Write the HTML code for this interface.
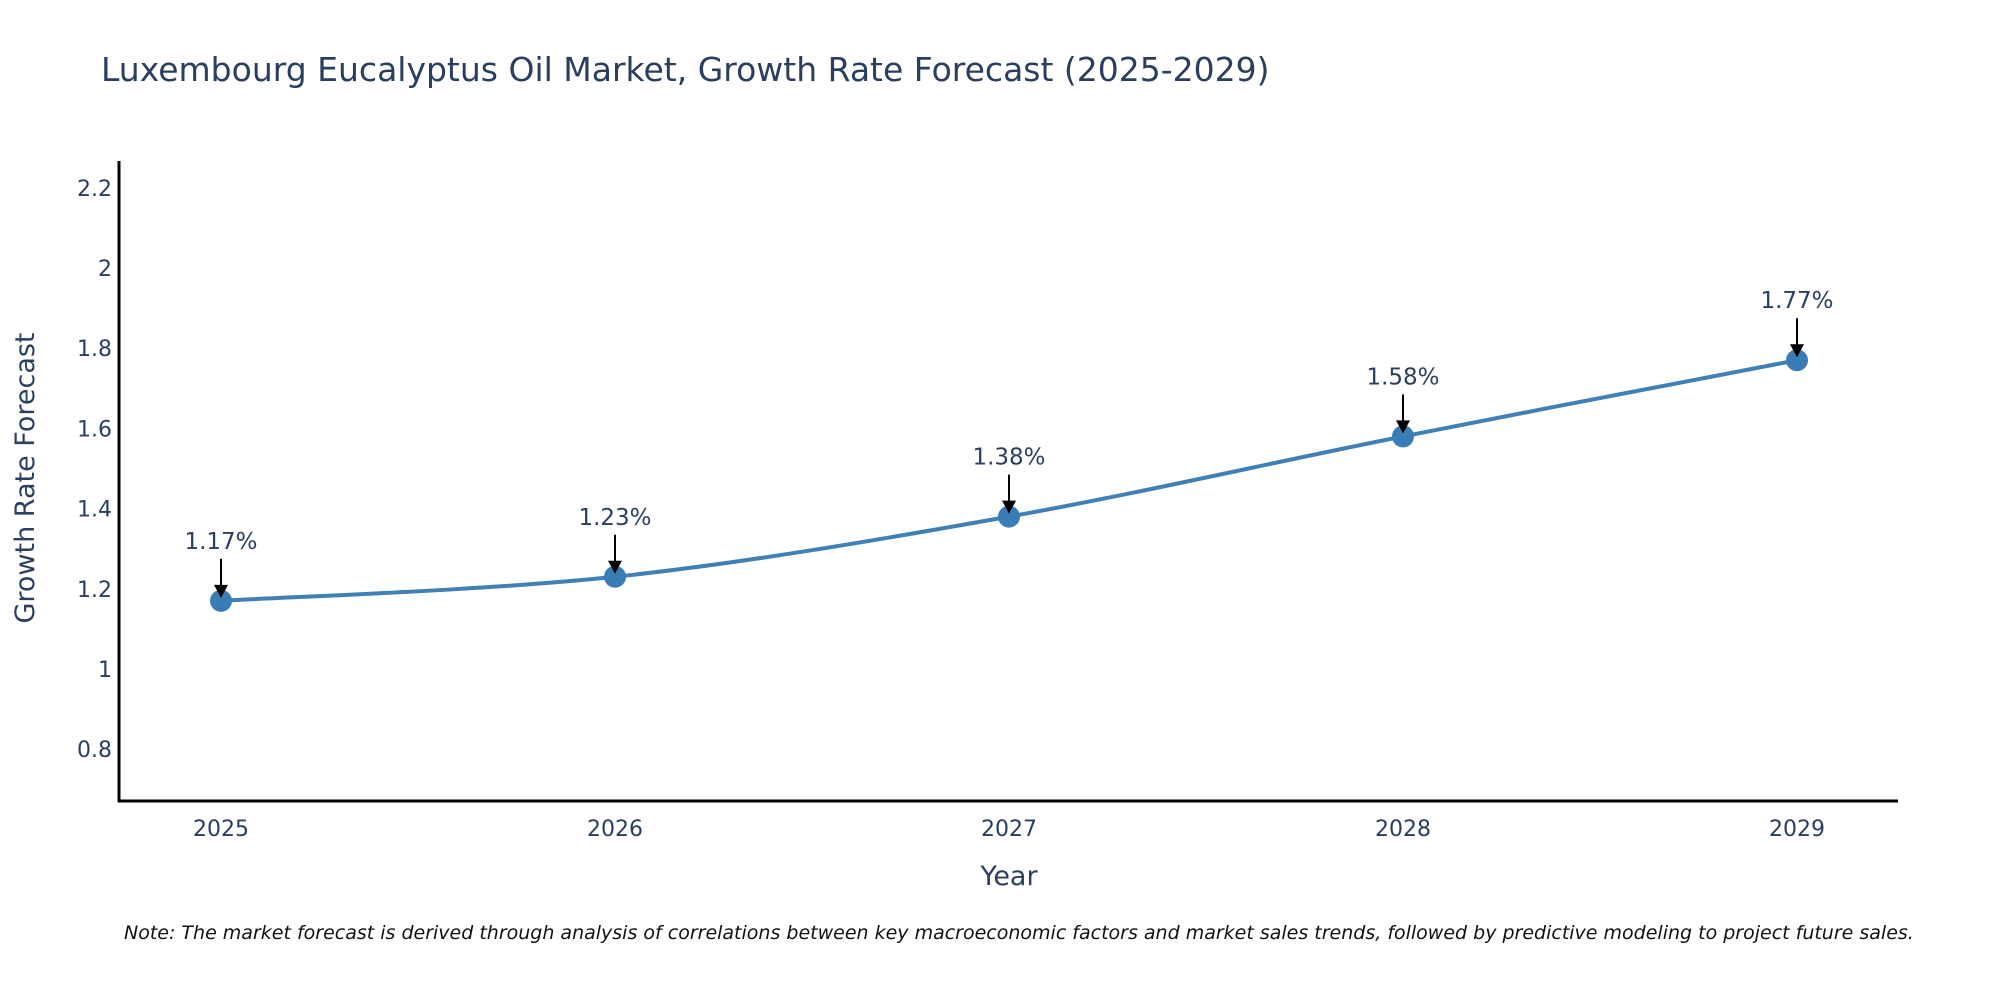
<!DOCTYPE html>
<html><head><meta charset="utf-8"><style>
body{margin:0;background:#fff;}
svg{display:block;font-family:"DejaVu Sans","Liberation Sans",sans-serif;}
</style></head><body>
<svg id="chart" width="2000" height="1000">
<text x="101" y="81" font-size="33" fill="#2a3f5f">Luxembourg Eucalyptus Oil Market, Growth Rate Forecast (2025-2029)</text>
<g id="yticks"></g>
<g id="xticks"></g>
<line x1="119" y1="161" x2="119" y2="802" stroke="#000" stroke-width="3"/>
<line x1="118" y1="801" x2="1898" y2="801" stroke="#000" stroke-width="3"/>
<path id="line" fill="none" stroke="#4080b4" stroke-width="4"/>
<g id="marks"></g>
<text transform="translate(34,478) rotate(-90)" text-anchor="middle" font-size="27" fill="#2a3f5f">Growth Rate Forecast</text>
<text x="1009" y="885" text-anchor="middle" font-size="27" fill="#2a3f5f">Year</text>
<text x="124" y="939" font-size="19" font-style="italic" fill="#111">Note: The market forecast is derived through analysis of correlations between key macroeconomic factors and market sales trends, followed by predictive modeling to project future sales.</text>
</svg>
<script>
const years=[2025,2026,2027,2028,2029];
const values=[1.17,1.23,1.38,1.58,1.77];
const labels=["1.17%","1.23%","1.38%","1.58%","1.77%"];
const yTicks=[0.8,1,1.2,1.4,1.6,1.8,2,2.2];
const NS="http://www.w3.org/2000/svg";
const xs=y=>221+(y-2025)*394;
const ys=v=>669-(v-1)*401;
function mk(t,a,p){const e=document.createElementNS(NS,t);for(const k in a)e.setAttribute(k,a[k]);p.appendChild(e);return e;}
const yt=document.getElementById('yticks');
yTicks.forEach(v=>{const t=mk('text',{x:112,y:ys(v)+8,'text-anchor':'end','font-size':22,fill:'#2a3f5f'},yt);


t.textContent=String(v);});
const xt=document.getElementById('xticks');
years.forEach(y=>{const t=mk('text',{x:xs(y),y:836,'text-anchor':'middle','font-size':22,fill:'#2a3f5f'},xt);


t.textContent=String(y);});
const pts=years.map((y,i)=>[xs(y),ys(values[i])]);
let d='M'+pts[0][0]+','+pts[0][1];
for(let i=0;i<pts.length-1;i++){const p0=pts[Math.max(0,i-1)],p1=pts[i],p2=pts[i+1],p3=pts[Math.min(pts.length-1,i+2)];const k=6;
d+=` C${p1[0]+(p2[0]-p0[0])/k},${p1[1]+(p2[1]-p0[1])/k} ${p2[0]-(p3[0]-p1[0])/k},${p2[1]-(p3[1]-p1[1])/k} ${p2[0]},${p2[1]}`;}
document.getElementById('line').setAttribute('d',d);
const mg=document.getElementById('marks');
pts.forEach((p,i)=>{
const c=mk('circle',{cx:p[0],cy:p[1],r:11,fill:'#3a7db6'},mg);


const l=mk('line',{x1:p[0],y1:p[1]-42,x2:p[0],y2:p[1]-14,stroke:'#000','stroke-width':2},mg);


const h=mk('polygon',{points:`${p[0]-7},${p[1]-16} ${p[0]+7},${p[1]-16} ${p[0]},${p[1]-3}`,fill:'#000'},mg);


const t=mk('text',{x:p[0],y:p[1]-52,'text-anchor':'middle','font-size':23,fill:'#2a3f5f'},mg);


t.textContent=labels[i];});
</script>
</body></html>
